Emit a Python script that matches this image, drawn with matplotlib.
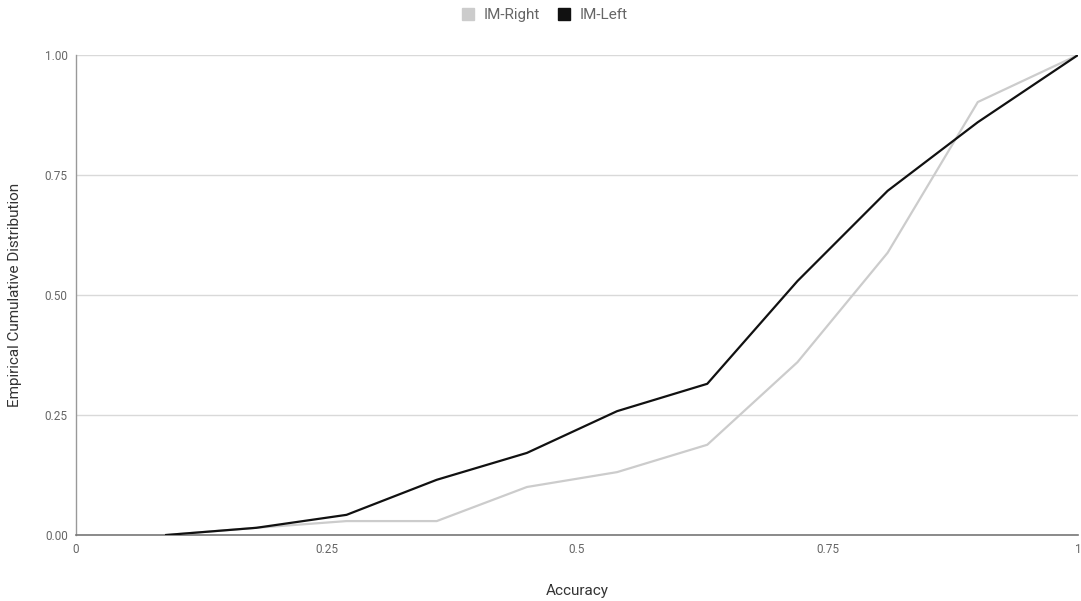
import matplotlib
matplotlib.use('Agg')
import matplotlib.pyplot as plt
from matplotlib.lines import Line2D

# accuracy bins and cumulative fractions per hand
accuracy = [0.09, 0.18, 0.27, 0.36, 0.45, 0.54, 0.63, 0.72, 0.81, 0.90, 1.00]
im_right = [0.0, 0.015, 0.029, 0.029, 0.100, 0.131, 0.188, 0.360, 0.588, 0.902, 1.0]
im_left = [0.0, 0.015, 0.042, 0.115, 0.171, 0.258, 0.315, 0.529, 0.717, 0.860, 1.0]

xticks = [0, 0.25, 0.5, 0.75, 1]
xticklabels = ['0', '0.25', '0.5', '0.75', '1']
yticks = [0, 0.25, 0.5, 0.75, 1.0]
yticklabels = ['0.00', '0.25', '0.50', '0.75', '1.00']

plt.rcParams['font.family'] = ['Roboto', 'DejaVu Sans']

fig = plt.figure(figsize=(10.81, 6.01), dpi=100)
ax = fig.add_axes([76/1081, 66/601, 1002/1081, 480/601])

right_color = '#cccccc'
left_color = '#111111'
ax.plot(accuracy, im_right, color=right_color, lw=1.6, zorder=3)
ax.plot(accuracy, im_left, color=left_color, lw=1.6, zorder=4)

ax.set_xlim(0, 1)
ax.set_ylim(0, 1)
ax.set_xticks(xticks)
ax.set_xticklabels(xticklabels)
ax.set_yticks(yticks)
ax.set_yticklabels(yticklabels)
ax.tick_params(length=0, labelsize=8.5, colors='#666666', pad=6)

ax.grid(axis='y', color='#d9d9d9', lw=1)
ax.set_axisbelow(True)
for side in ['top', 'right']:
    ax.spines[side].set_visible(False)
ax.spines['left'].set_color('#999999')
ax.spines['bottom'].set_color('#777777')
ax.spines['left'].set_linewidth(1)
ax.spines['bottom'].set_linewidth(1.2)

ax.set_xlabel('Accuracy', fontsize=11, color='#333333', labelpad=20)
ax.set_ylabel('Empirical Cumulative Distribution', fontsize=11, color='#333333', labelpad=16)

handles = [Line2D([], [], marker='s', ls='', color=right_color, markersize=9),
           Line2D([], [], marker='s', ls='', color=left_color, markersize=9)]
fig.legend(handles, ['IM-Right', 'IM-Left'], loc='center', bbox_to_anchor=(0.5, 1 - 15/601),
           ncol=2, frameon=False, fontsize=11, handletextpad=0.0, columnspacing=0.6,
           labelcolor='#666666')

fig.savefig('out.png', dpi=100)
